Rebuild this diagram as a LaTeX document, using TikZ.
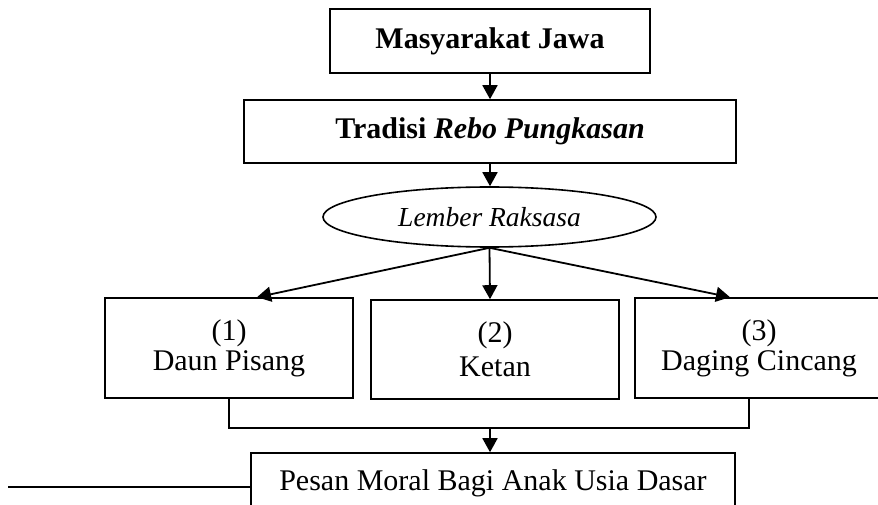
\documentclass[tikz,border=0pt]{standalone}
\usepackage{fontspec}
\setmainfont{Liberation Serif}
\usetikzlibrary{shapes.geometric,arrows.meta}
\tikzset{
  box/.style={draw, line width=1.6pt, rectangle, inner sep=0pt, align=center,
    font=\fontsize{30}{30}\selectfont},
  oval/.style={draw, line width=1.6pt, ellipse, inner sep=0pt,
    font=\fontsize{27.5}{30}\selectfont\itshape},
  arr/.style={line width=1.8pt, -{Triangle[width=15pt,length=14pt]}},
  link/.style={line width=1.6pt}
}
\begin{document}
\begin{tikzpicture}[x=1pt,y=-1pt]
\useasboundingbox (0,0) rectangle (878,505);
\node[box, minimum width=320pt, minimum height=64pt, font=\fontsize{30}{30}\selectfont\bfseries] (m) at (490,41) {Masyarakat Jawa};
\node[box, minimum width=492pt, minimum height=63pt, font=\fontsize{30}{30}\selectfont\bfseries] (t) at (490,131.5) {Tradisi \textit{Rebo Pungkasan}};
\node[oval, minimum width=333pt, minimum height=60pt] (e) at (489.5,217) {Lember Raksasa};
\node[box, minimum width=248pt, minimum height=100pt] (b1) at (229,348) {(1)\\Daun Pisang};
\node[box, minimum width=248pt, minimum height=99pt] (b2) at (495,349.5) {(2)\\[4pt]Ketan};
\node[box, minimum width=248pt, minimum height=100pt] (b3) at (759,348) {(3)\\Daging Cincang};
\node[box, minimum width=484pt, minimum height=60pt] (b4) at (493,483) {Pesan Moral Bagi Anak Usia Dasar};
\coordinate (lft) at (8,487);
\coordinate (jl) at (229,428);
\coordinate (jm) at (490,428);
\coordinate (jr) at (749,428);
\draw[arr] (m.south) -- (m.south |- t.north);
\draw[arr] (t.south) -- (t.south |- e.north);
\draw[arr] (e.south) -- ([xshift=28pt]b1.north);
\draw[arr] (e.south) -- ([xshift=-5pt]b2.north);
\draw[arr] (e.south) -- ([xshift=-29pt]b3.north);
\draw[link] (b1.south) -- (jl) -- (jr) -- (jr |- b3.south);
\draw[arr] (jm) -- (jm |- b4.north);
\draw[link] (lft) -- (lft -| b4.west);
\end{tikzpicture}
\end{document}
